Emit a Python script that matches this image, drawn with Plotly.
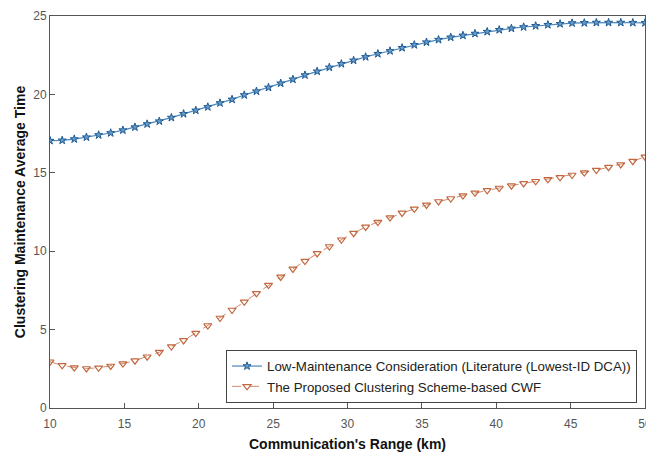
import plotly.graph_objects as go

range_km = [10.00, 10.82, 11.63, 12.45, 13.27, 14.08, 14.90, 15.71, 16.53, 17.35,
            18.16, 18.98, 19.80, 20.61, 21.43, 22.24, 23.06, 23.88, 24.69, 25.51,
            26.33, 27.14, 27.96, 28.78, 29.59, 30.41, 31.22, 32.04, 32.86, 33.67,
            34.49, 35.31, 36.12, 36.94, 37.76, 38.57, 39.39, 40.20, 41.02, 41.84,
            42.65, 43.47, 44.29, 45.10, 45.92, 46.73, 47.55, 48.37, 49.18, 50.00]

low_maintenance = [17.05, 17.07, 17.15, 17.27, 17.41, 17.54, 17.72, 17.91, 18.11, 18.29,
                   18.52, 18.76, 18.98, 19.20, 19.45, 19.68, 19.96, 20.20, 20.44, 20.71,
                   20.96, 21.23, 21.47, 21.72, 21.95, 22.17, 22.39, 22.59, 22.77, 22.97,
                   23.16, 23.33, 23.49, 23.64, 23.76, 23.88, 24.00, 24.12, 24.21, 24.30,
                   24.37, 24.44, 24.50, 24.55, 24.56, 24.58, 24.58, 24.58, 24.57, 24.56]

proposed_cwf = [2.95, 2.72, 2.58, 2.52, 2.56, 2.68, 2.83, 3.02, 3.27, 3.56,
                3.92, 4.31, 4.78, 5.26, 5.74, 6.25, 6.77, 7.31, 7.84, 8.36,
                8.87, 9.37, 9.86, 10.30, 10.73, 11.15, 11.55, 11.86, 12.14, 12.44,
                12.70, 12.95, 13.17, 13.36, 13.55, 13.72, 13.88, 14.03, 14.18, 14.32,
                14.46, 14.58, 14.71, 14.86, 15.01, 15.17, 15.36, 15.53, 15.74, 16.02]

series_names = ["Low-Maintenance Consideration (Literature (Lowest-ID DCA))",
                "The Proposed Clustering Scheme-based CWF"]

x_ticks = [10, 15, 20, 25, 30, 35, 40, 45, 50]
y_ticks = [0, 5, 10, 15, 20, 25]

FONT = "Liberation Sans, Arial, sans-serif"

fig = go.Figure()
fig.add_trace(go.Scatter(
    x=range_km, y=low_maintenance, name=series_names[0], mode="lines+markers",
    line=dict(color="#4a87bf", width=1.2),
    marker=dict(symbol="star", size=6, color="#6a9ccb", line=dict(color="#1d5a92", width=1)),
))
fig.add_trace(go.Scatter(
    x=range_km, y=proposed_cwf, name=series_names[1], mode="lines+markers",
    line=dict(color="#d08a6c", width=1, dash="dash"),
    marker=dict(symbol="triangle-down-open", size=7, color="#c2673f", line=dict(width=1.2)),
))

axis_common = dict(
    showline=True, linecolor="#555", linewidth=1, mirror=True,
    ticks="inside", ticklen=5, tickcolor="#555",
    showgrid=False, zeroline=False, automargin=False,
    ticklabeloverflow="allow",
    tickfont=dict(family=FONT, size=12, color="#555"),
)

fig.update_layout(
    width=646, height=452,
    margin=dict(l=50, r=1, t=16, b=44),
    paper_bgcolor="white", plot_bgcolor="white",
    font=dict(family=FONT, color="#222"),
    showlegend=True,
    legend=dict(
        x=0.9866, y=0.013, xanchor="right", yanchor="bottom",
        bgcolor="white", bordercolor="#444", borderwidth=1,
        font=dict(family=FONT, size=13.3, color="#222"),
        tracegroupgap=0, itemwidth=30,
    ),
    xaxis=dict(range=[10, 50], tickvals=x_ticks, ticklabelstandoff=5,
               title=dict(text="<b>Communication's Range (km)</b>", standoff=11,
                          font=dict(family=FONT, size=14, color="#111")),
               **axis_common),
    yaxis=dict(range=[0, 25], tickvals=y_ticks,
               title=dict(text="<b>Clustering Maintenance Average Time</b>", standoff=4,
                          font=dict(family=FONT, size=14, color="#111")),
               **axis_common),
)

fig.write_html("out.html", config={"displayModeBar": False},
               post_script="document.body.style.margin='0';document.body.style.overflow='hidden';")
